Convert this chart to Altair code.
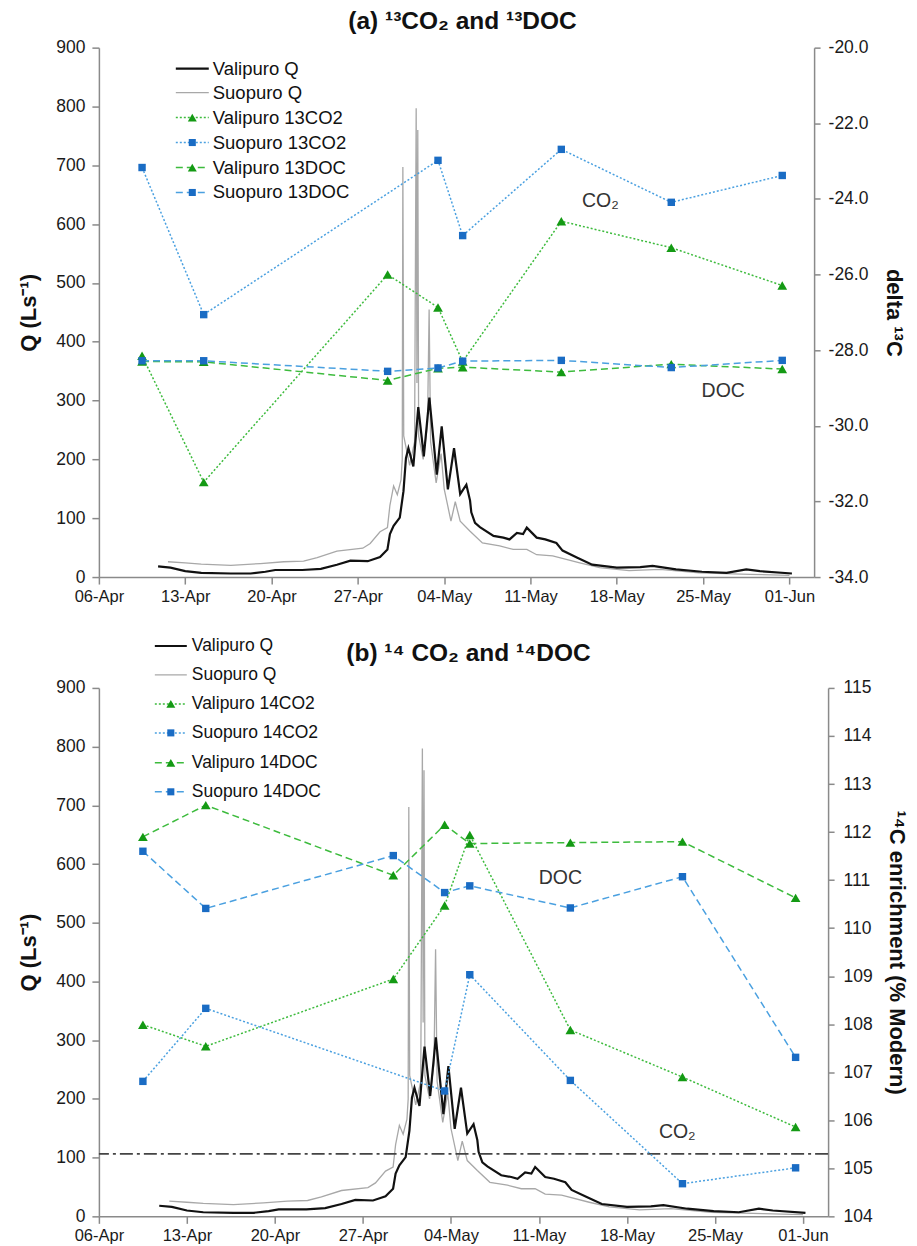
import altair as alt
import pandas as pd

FONT = "Liberation Sans"
BASE = pd.Timestamp("2010-04-06")

# ---------------- Discharge (days after 06-Apr, L/s) ----------------
valipuro_q_day = [4.8, 5.8, 7.0, 8.3, 10.7, 12.3, 13.5, 14.3, 15.1, 16.5, 18.0, 19.3, 20.4, 21.8,
                  22.8, 23.4, 23.6, 23.9, 24.4, 24.7, 24.9, 25.1, 25.5, 25.9, 26.35, 26.8, 27.4,
                  27.8, 28.3, 28.8, 29.3, 29.8, 30.1, 30.2, 30.5, 30.9, 32.0, 32.8, 33.3, 33.9,
                  34.4, 34.7, 35.5, 36.2, 37.1, 37.6, 38.8, 40.0, 42.0, 43.9, 44.9, 46.8, 48.9,
                  50.9, 52.5, 53.6, 56.2]
valipuro_q = [18, 16, 10, 7, 6, 6, 9, 12, 12, 12, 14, 21, 28, 27,
              34, 47, 73, 87, 101, 146, 202, 219, 188, 289, 205, 305, 174,
              256, 149, 219, 141, 157, 130, 110, 92, 85, 70, 67, 64, 75,
              73, 84, 67, 64, 58, 45, 33, 21, 16, 17, 19, 13, 9,
              7, 13, 10, 6]

suopuro_q_day = [5.6, 7.0, 8.3, 10.7, 13.1, 15.0, 16.6, 17.7, 19.3, 21.4, 22.0, 22.8, 23.4, 23.6,
                 23.9, 24.2, 24.5, 24.6, 24.65, 24.72, 25.2, 25.6, 25.73, 25.79, 25.86, 25.93,
                 26.3, 26.65, 26.78, 26.9, 27.35, 27.75, 28.0, 28.3, 28.55, 28.9, 29.3, 30.1,
                 31.1, 32.5, 33.6, 34.7, 35.5, 36.8, 39.0, 40.6, 43.0, 45.5, 48.7, 52.8, 56.0]
suopuro_q = [26, 24, 22, 20, 23, 26, 27, 33, 44, 49, 57, 77, 84, 122,
             155, 140, 165, 200, 697, 240, 190, 230, 797, 330, 760, 240,
             200, 260, 455, 230, 160, 210, 150, 120, 95, 128, 95, 78,
             58, 53, 47, 47, 38, 36, 24, 16, 11, 13, 7, 4.5, 3]

# ---------------- Sampling dates ----------------
sample_dates = ["2010-04-09 12:00", "2010-04-14 12:00", "2010-04-29 10:00", "2010-05-03 12:00",
                "2010-05-05 12:00", "2010-05-13 12:00", "2010-05-22 10:00", "2010-05-31 10:00"]

# (a) delta 13C
valipuro_13co2 = [-28.15, -31.49, -26.0, -26.87, -28.3, -24.59, -25.29, -26.29]
suopuro_13co2 = [-23.17, -27.06, None, -22.98, -24.97, -22.69, -24.09, -23.38]
valipuro_13doc = [-28.3, -28.31, -28.80, -28.48, -28.45, -28.58, -28.37, -28.50]
suopuro_13doc = [-28.28, -28.28, -28.56, -28.47, -28.29, -28.27, -28.46, -28.27]

# (b) 14C enrichment (% Modern)
valipuro_14co2 = [107.99, 107.54, 108.94, 110.47, 111.94, 107.88, 106.90, 105.86]
suopuro_14co2 = [106.81, 108.33, None, 106.61, 109.03, 106.83, 104.68, 105.01]
valipuro_14doc = [111.90, 112.56, 111.10, 112.15, 111.76, 111.78, 111.80, 110.63]
suopuro_14doc = [111.60, 110.41, 111.51, 110.74, 110.88, 110.42, 111.07, 107.31]
modern_14c = [105.3]

tick_dates = ["2010-04-06", "2010-04-13", "2010-04-20", "2010-04-27", "2010-05-04",
              "2010-05-11", "2010-05-18", "2010-05-25", "2010-06-01"]

q_ticks = [0, 100, 200, 300, 400, 500, 600, 700, 800, 900]
d13_ticks = [-34, -32, -30, -28, -26, -24, -22, -20]
c14_ticks = [104, 105, 106, 107, 108, 109, 110, 111, 112, 113, 114, 115]

# ---------------- styles ----------------
GREEN_LINE = "#3dbb3d"
GREEN_MARK = "#149a14"
BLUE_LINE = "#4aa0e0"
BLUE_MARK = "#1a6cc4"
DOT = [2, 2]
DASH = [7, 4]
TRI = 95
SQ = 55


def dt(s):
    ts = pd.Timestamp(s)
    return alt.DateTime(year=ts.year, month=ts.month, date=ts.day, hours=ts.hour)


def q_frame(days, vals):
    return pd.DataFrame({"t": [BASE + pd.Timedelta(days=d) for d in days], "q": vals})


def s_frame(vals):
    df = pd.DataFrame({"t": pd.to_datetime(sample_dates), "v": vals})
    return df.dropna()


def panel(width, height, iso_series, y_dom, y_ticks, y_title, y_label_expr, title, title_x, title_y,
          legend_entries, leg_x0, leg_x1, leg_xt, leg_ys, leg_fs, notes, extra_rule=None,
          r_label_pad=8, r_title_pad=15):
    xenc = alt.X("t:T",
                 scale=alt.Scale(domain=[dt("2010-04-06"), dt("2010-06-03")]),
                 axis=alt.Axis(values=[dt(d) for d in tick_dates], format="%d-%b", title=None,
                               labelFontSize=16.5, tickSize=7, labelPadding=4, grid=False,
                               labelFlush=False, labelOverlap=False))
    yq = alt.Y("q:Q", scale=alt.Scale(domain=[0, 900], nice=False),
               axis=alt.Axis(values=q_ticks, orient="left", title="Q (Ls⁻¹)", format="d",
                             labelFontSize=17.5, tickSize=7, labelPadding=7, titlePadding=15,
                             titleFontSize=22, titleFontWeight="bold", grid=False))
    suo = alt.Chart(q_frame(suopuro_q_day, suopuro_q)).mark_line(
        color="#a8a8a8", strokeWidth=1.3).encode(x=xenc, y=yq)
    val = alt.Chart(q_frame(valipuro_q_day, valipuro_q)).mark_line(
        color="#111111", strokeWidth=2.2).encode(x=xenc, y=yq)
    q_group = alt.layer(suo, val)

    axis_kw = dict(values=y_ticks, orient="right", title=y_title, labelFontSize=17.5,
                   tickSize=6, labelPadding=r_label_pad, titlePadding=r_title_pad,
                   titleFontSize=22, titleFontWeight="bold", grid=False)
    if y_label_expr:
        axis_kw["labelExpr"] = y_label_expr
    yr = alt.Y("v:Q", scale=alt.Scale(domain=y_dom, nice=False), axis=alt.Axis(**axis_kw))

    iso_layers = []
    if extra_rule is not None:
        iso_layers.append(alt.Chart(pd.DataFrame({"v": extra_rule})).mark_rule(
            color="#444444", strokeWidth=1.6, strokeDash=[13, 4, 3, 4]).encode(y=yr))
    for vals, lcolor, mcolor, dash, shape, msize in iso_series:
        df = s_frame(vals)
        iso_layers.append(alt.Chart(df).mark_line(color=lcolor, strokeWidth=1.5, strokeDash=dash)
                          .encode(x=xenc, y=yr))
        iso_layers.append(alt.Chart(df).mark_point(shape=shape, filled=True, size=msize, color=mcolor,
                                                   opacity=1).encode(x=xenc, y=yr))

    # annotations
    for txt, px, py in notes:
        iso_layers.append(alt.Chart(pd.DataFrame({"label": [txt]})).mark_text(
            font=FONT, fontSize=19.5, color="#333333", align="center", baseline="middle")
            .encode(x=alt.value(px), y=alt.value(py), text="label:N"))

    # title
    iso_layers.append(alt.Chart(pd.DataFrame({"label": [title]})).mark_text(
        font=FONT, fontSize=24.5, fontWeight="bold", color="#111111", align="center", baseline="middle")
        .encode(x=alt.value(title_x), y=alt.value(title_y), text="label:N"))

    # legend
    for (label, color, dash, sw, shape, mcolor, msize), ly in zip(legend_entries, leg_ys):
        d = pd.DataFrame({"label": [label]})
        kw = dict(color=color, strokeWidth=sw)
        if dash:
            kw["strokeDash"] = dash
        iso_layers.append(alt.Chart(d).mark_rule(**kw).encode(
            x=alt.value(leg_x0), x2=alt.value(leg_x1), y=alt.value(ly)))
        if shape:
            iso_layers.append(alt.Chart(d).mark_point(shape=shape, filled=True, size=msize,
                                                      color=mcolor, opacity=1).encode(
                x=alt.value((leg_x0 + leg_x1) / 2), y=alt.value(ly)))
        iso_layers.append(alt.Chart(d).mark_text(font=FONT, fontSize=leg_fs, color="#111111",
                                                 align="left", baseline="middle").encode(
            x=alt.value(leg_xt), y=alt.value(ly), text="label:N"))

    iso_group = alt.layer(*iso_layers)
    return alt.layer(q_group, iso_group).resolve_scale(y="independent").properties(
        width=width, height=height)


series_a = [
    (valipuro_13co2, GREEN_LINE, GREEN_MARK, DOT, "triangle-up", TRI),
    (suopuro_13co2, BLUE_LINE, BLUE_MARK, DOT, "square", SQ),
    (valipuro_13doc, GREEN_LINE, GREEN_MARK, DASH, "triangle-up", TRI),
    (suopuro_13doc, BLUE_LINE, BLUE_MARK, DASH, "square", SQ),
]
series_b = [
    (valipuro_14co2, GREEN_LINE, GREEN_MARK, DOT, "triangle-up", TRI),
    (suopuro_14co2, BLUE_LINE, BLUE_MARK, DOT, "square", SQ),
    (valipuro_14doc, GREEN_LINE, GREEN_MARK, DASH, "triangle-up", TRI),
    (suopuro_14doc, BLUE_LINE, BLUE_MARK, DASH, "square", SQ),
]


def legend_entries(tag):
    return [
        ("Valipuro Q", "#111111", None, 2.2, None, None, 0),
        ("Suopuro Q", "#a8a8a8", None, 1.3, None, None, 0),
        (f"Valipuro {tag}CO2", GREEN_LINE, DOT, 1.5, "triangle-up", GREEN_MARK, 80),
        (f"Suopuro {tag}CO2", BLUE_LINE, DOT, 1.5, "square", BLUE_MARK, 50),
        (f"Valipuro {tag}DOC", GREEN_LINE, DASH, 1.5, "triangle-up", GREEN_MARK, 80),
        (f"Suopuro {tag}DOC", BLUE_LINE, DASH, 1.5, "square", BLUE_MARK, 50),
    ]


minus_fix = "replace(format(datum.value, '.1f'), '\u2212', '-')"

panel_a = panel(716, 530, series_a, [-34, -20], d13_ticks, "delta ¹³C", minus_fix,
                "(a) ¹³CO₂ and ¹³DOC", 364, -26,
                legend_entries("13"), 77, 110, 114, [21, 45, 70, 95, 120, 145], 18.5,
                [("CO₂", 502, 154), ("DOC", 625, 344)],
                r_label_pad=8, r_title_pad=14)

panel_b = panel(730, 529, series_b, [104, 115], c14_ticks, "¹⁴C enrichment (% Modern)", None,
                "(b) ¹⁴ CO₂ and ¹⁴DOC", 370, -34,
                legend_entries("14"), 56, 88, 93, [-42, -13, 16, 45, 75, 104], 17.5,
                [("DOC", 462, 190), ("CO₂", 579, 445)], extra_rule=modern_14c,
                r_label_pad=9, r_title_pad=12)

chart = alt.vconcat(panel_a, panel_b, spacing=32).properties(
    padding={"left": 9, "top": 0, "right": 1, "bottom": 0}
).configure_view(stroke=None).configure_axis(
    domainColor="#8a8a8a", tickColor="#8a8a8a", domainWidth=1.5, tickWidth=1.5,
    labelFont=FONT, titleFont=FONT, labelColor="#1a1a1a", titleColor="#111111", grid=False
)

chart.save("out.html", embed_options={"renderer": "svg", "actions": False})
